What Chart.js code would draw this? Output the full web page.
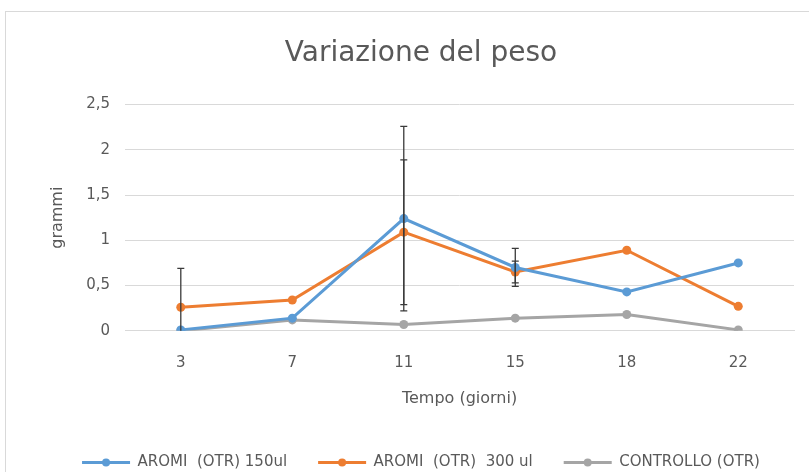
<!DOCTYPE html>
<html>
<head>
<meta charset="utf-8">
<script src="https://cdn.jsdelivr.net/npm/chart.js@4/dist/chart.umd.min.js"></script>
<style>
  html, body { margin: 0; padding: 0; background: #fff; overflow: hidden; width: 809px; height: 472px; }
  #wrap { position: absolute; left: 5px; top: 11px; width: 832px; height: 493px; border: 1px solid #d9d9d9; }
</style>
</head>
<body>
<div id="wrap"><canvas id="pesoChart"></canvas></div>
<script>
const giorni = ['3', '7', '11', '15', '18', '22']

const aromi150 = [0.01, 0.14, 1.24, 0.70, 0.43, 0.75]
const aromi300 = [0.26, 0.34, 1.09, 0.65, 0.89, 0.27]
const controllo = [0.00, 0.12, 0.07, 0.14, 0.18, 0.01]

// error bars (half width), null where not shown
const err150 = [null, null, 1.02, 0.21, null, null]
const err300 = [0.43, null, 0.80, 0.12, null, null]

const yTicks = [0, 0.5, 1, 1.5, 2, 2.5]

const textGrey = '#595959'
const font = "'DejaVu Sans', sans-serif"

const errorBars = {
    id: 'errorBars',
    afterDatasetsDraw(chart) {
        const ctx = chart.ctx
        const x = chart.scales.x
        const y = chart.scales.y
        const sets = [[aromi150, err150], [aromi300, err300]]
        ctx.save()
        ctx.strokeStyle = '#3a3a3a'
        ctx.lineWidth = 1.3
        sets.forEach(([vals, errs]) => {
            errs.forEach((e, i) => {
                if (e === null) return
                const px = x.getPixelForValue(i)
                const hi = vals[i] + e
                const lo = vals[i] - e
                const yHi = y.getPixelForValue(hi)
                const yLo = y.getPixelForValue(Math.max(lo, 0))
                ctx.beginPath()
                ctx.moveTo(px, yHi)
                ctx.lineTo(px, yLo)
                ctx.moveTo(px - 3.5, yHi)
                ctx.lineTo(px + 3.5, yHi)
                if (lo >= 0) {
                    ctx.moveTo(px - 3.5, yLo)
                    ctx.lineTo(px + 3.5, yLo)
                }
                ctx.stroke()
            })
        })
        ctx.restore()
    }
}

// marker dot in the middle of each legend line
const legendDots = {
    id: 'legendDots',
    afterDraw(chart) {
        const legend = chart.legend
        if (!legend || !legend.legendHitBoxes) return
        const ctx = chart.ctx
        const bw = legend.options.labels.boxWidth
        legend.legendHitBoxes.forEach((box, i) => {
            const ds = chart.data.datasets[i]
            ctx.save()
            ctx.fillStyle = ds.borderColor
            ctx.beginPath()
            ctx.arc(box.left + bw / 2, box.top + box.height / 2, 4, 0, Math.PI * 2)
            ctx.fill()
            ctx.restore()
        })
    }
}

const mkSet = (label, data, color) => ({
    label: label,
    data: data,
    borderColor: color,
    backgroundColor: color,
    borderWidth: 3,
    pointRadius: 4.5,
    pointBackgroundColor: color,
    pointBorderWidth: 0,
    tension: 0
})

const ctx = document.getElementById('pesoChart')
new Chart(ctx, {
    type: 'line',
    data: {
        labels: giorni,
        datasets: [
            mkSet('AROMI  (OTR) 150ul', aromi150, '#5b9bd5'),
            mkSet('AROMI  (OTR)  300 ul', aromi300, '#ed7d31'),
            mkSet('CONTROLLO (OTR)', controllo, '#a5a5a5')
        ]
    },
    options: {
        responsive: true,
        maintainAspectRatio: false,
        animation: false,
        layout: {
            padding: { left: 42, right: 44, top: 25, bottom: 25 }
        },
        plugins: {
            title: {
                display: true,
                text: 'Variazione del peso',
                color: textGrey,
                font: { family: font, size: 28, weight: 'normal' },
                padding: { top: 0, bottom: 34 }
            },
            legend: {
                position: 'bottom',
                labels: {
                    color: textGrey,
                    font: { family: font, size: 15 },
                    boxWidth: 48,
                    boxHeight: 3,
                    padding: 31,
                    generateLabels(chart) {
                        const items = Chart.defaults.plugins.legend.labels.generateLabels(chart)
                        items.forEach(it => { it.lineWidth = 0 })
                        return items
                    }
                }
            },
            tooltip: { enabled: false }
        },
        scales: {
            x: {
                offset: true,
                grid: { display: false },
                border: { color: '#d9d9d9' },
                ticks: {
                    color: textGrey,
                    font: { family: font, size: 15 },
                    padding: 15
                },
                title: {
                    display: true,
                    text: 'Tempo (giorni)',
                    color: textGrey,
                    font: { family: font, size: 16 },
                    padding: { top: 2, bottom: 16 }
                }
            },
            y: {
                min: 0,
                max: 2.5,
                afterBuildTicks(axis) {
                    axis.ticks = yTicks.map(v => ({ value: v }))
                },
                grid: { color: '#d9d9d9', lineWidth: 1, drawTicks: false },
                border: { display: false },
                ticks: {
                    color: textGrey,
                    font: { family: font, size: 15 },
                    padding: 15,
                    callback: v => String(v).replace('.', ',')
                },
                title: {
                    display: true,
                    text: 'grammi',
                    color: textGrey,
                    font: { family: font, size: 16 },
                    padding: { top: 0, bottom: 4 }
                }
            }
        }
    },
    plugins: [errorBars, legendDots]
})
</script>
</body>
</html>
